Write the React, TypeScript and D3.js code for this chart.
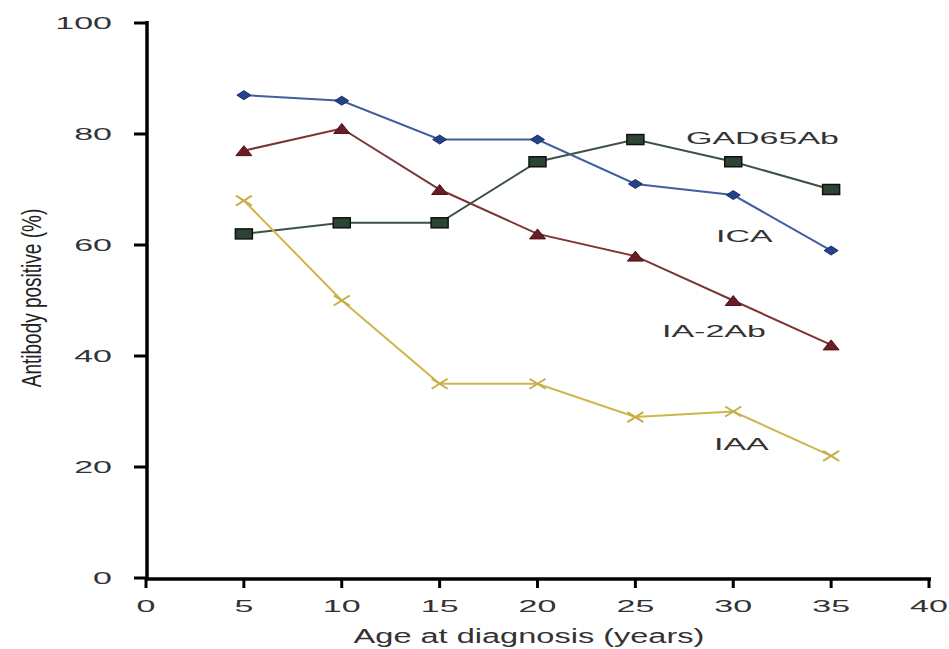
import React from "react";
import * as d3 from "d3";

const ages = [5, 10, 15, 20, 25, 30, 35];
const icaValues = [87, 86, 79, 79, 71, 69, 59];
const ia2Values = [77, 81, 70, 62, 58, 50, 42];
const gadValues = [62, 64, 64, 75, 79, 75, 70];
const iaaValues = [68, 50, 35, 35, 29, 30, 22];
const xTicks = [0, 5, 10, 15, 20, 25, 30, 35, 40];
const yTicks = [0, 20, 40, 60, 80, 100];

const W = 949;
const H = 649;
const FONT = "'Liberation Sans', Arial, Helvetica, sans-serif";

type Series = {
  name: string;
  values: number[];
  line: string;
  fill: string;
  marker: "diamond" | "triangle" | "square" | "cross";
  label: { x: number; y: number };
};

const series: Series[] = [
  { name: "GAD65Ab", values: gadValues, line: "#3d5244", fill: "#2c4432", marker: "square", label: { x: 686, y: 144 } },
  { name: "ICA", values: icaValues, line: "#3f5f9e", fill: "#24418a", marker: "diamond", label: { x: 716, y: 242 } },
  { name: "IA-2Ab", values: ia2Values, line: "#7d3434", fill: "#6a1d24", marker: "triangle", label: { x: 662, y: 337 } },
  { name: "IAA", values: iaaValues, line: "#cdb64e", fill: "#c4ae45", marker: "cross", label: { x: 714, y: 450 } },
];

export default function App() {
  const x = d3.scaleLinear().domain([0, 40]).range([146, 929]);
  const y = d3.scaleLinear().domain([0, 100]).range([578, 23]);
  const line = d3
    .line<number>()
    .x((_, i) => x(ages[i]))
    .y((v) => y(v));

  const marker = (s: Series, cx: number, cy: number, key: number) => {
    if (s.marker === "diamond") {
      const p = `M${cx - 7},${cy} L${cx},${cy - 4.5} L${cx + 7},${cy} L${cx},${cy + 4.5} Z`;
      return <path key={key} d={p} fill={s.fill} stroke="#1a2f66" strokeWidth={1} />;
    }
    if (s.marker === "triangle") {
      const p = `M${cx - 8},${cy + 5} L${cx},${cy - 5} L${cx + 8},${cy + 5} Z`;
      return <path key={key} d={p} fill={s.fill} stroke="#4a1218" strokeWidth={1} />;
    }
    if (s.marker === "square") {
      return (
        <rect key={key} x={cx - 8.5} y={cy - 5} width={17} height={10} fill={s.fill} stroke="#111" strokeWidth={1.5} />
      );
    }
    const p = `M${cx - 8},${cy - 5} L${cx + 8},${cy + 5} M${cx - 8},${cy + 5} L${cx + 8},${cy - 5}`;
    return <path key={key} d={p} stroke={s.fill} strokeWidth={2} fill="none" />;
  };

  return (
    <svg width={W} height={H} style={{ position: "absolute", left: 0, top: 0, background: "#fff" }}>
      <rect width={W} height={H} fill="#fff" />
      <line x1={147} x2={147} y1={21} y2={580} stroke="#000" strokeWidth={3.5} />
      <line x1={145} x2={931} y1={579} y2={579} stroke="#000" strokeWidth={3.5} />
      {yTicks.map((t) => (
        <g key={"y" + t}>
          <line x1={134} x2={147} y1={y(t)} y2={y(t)} stroke="#000" strokeWidth={3} />
          <text
            transform={`translate(112, ${y(t) + 6}) scale(2,1)`}
            textAnchor="end"
            fontFamily={FONT}
            fontSize={17}
            fill="#333"
          >
            {t}
          </text>
        </g>
      ))}
      {xTicks.map((t) => (
        <g key={"x" + t}>
          <line x1={x(t)} x2={x(t)} y1={579} y2={588} stroke="#000" strokeWidth={3} />
          <text
            transform={`translate(${x(t)}, 612) scale(2,1)`}
            textAnchor="middle"
            fontFamily={FONT}
            fontSize={17}
            fill="#333"
          >
            {t}
          </text>
        </g>
      ))}
      <text
        transform="translate(529, 643) scale(1.55,1)"
        textAnchor="middle"
        fontFamily={FONT}
        fontSize={21}
        fill="#333"
      >
        Age at diagnosis (years)
      </text>
      <text
        transform="translate(41, 298) scale(1.5,1) rotate(-90)"
        textAnchor="middle"
        fontFamily={FONT}
        fontSize={19}
        fill="#222"
      >
        Antibody positive (%)
      </text>
      {series.map((s) => (
        <g key={s.name}>
          <path d={line(s.values) || ""} fill="none" stroke={s.line} strokeWidth={2} />
          {s.values.map((v, i) => marker(s, x(ages[i]), y(v), i))}
          <text
            transform={`translate(${s.label.x}, ${s.label.y}) scale(2,1)`}
            fontFamily={FONT}
            fontSize={17}
            fill="#333"
          >
            {s.name}
          </text>
        </g>
      ))}
    </svg>
  );
}
